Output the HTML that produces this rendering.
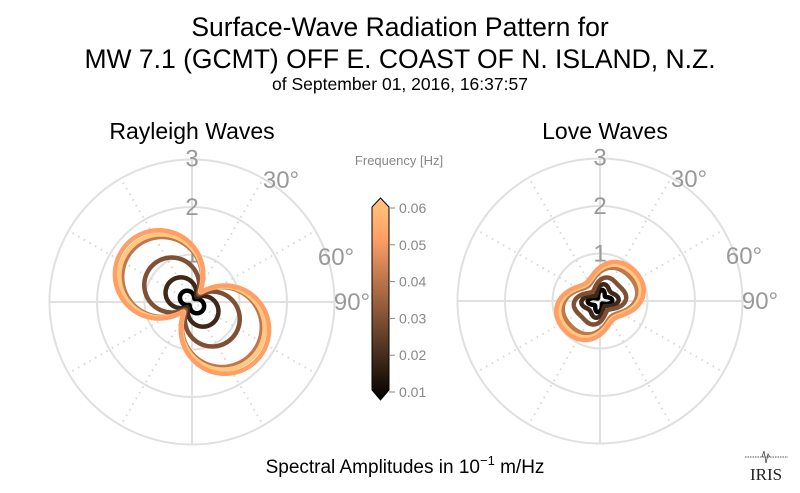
<!DOCTYPE html>
<html><head><meta charset="utf-8"><style>
html,body{margin:0;padding:0;background:#fff;}
svg{display:block;font-family:"Liberation Sans",sans-serif;}
</style></head><body>
<svg id="s" width="800" height="493" viewBox="0 0 800 493" xmlns="http://www.w3.org/2000/svg">
<defs>
<linearGradient id="cm" x1="0" y1="1" x2="0" y2="0">
<stop offset="0" stop-color="#000000"/>
<stop offset="0.2" stop-color="#3f2819"/>
<stop offset="0.4" stop-color="#7f5033"/>
<stop offset="0.6" stop-color="#bf774c"/>
<stop offset="0.8" stop-color="#ff9f66"/>
<stop offset="1" stop-color="#ffc77f"/>
</linearGradient>
</defs>
<text x="400" y="36" font-size="26.5" text-anchor="middle" fill="#000">Surface-Wave Radiation Pattern for</text>
<text x="400" y="68" font-size="26.5" text-anchor="middle" fill="#000">MW 7.1 (GCMT) OFF E. COAST OF N. ISLAND, N.Z.</text>
<text x="400" y="90" font-size="17.5" text-anchor="middle" fill="#000">of September 01, 2016, 16:37:57</text>
<text x="192" y="139" font-size="23" text-anchor="middle" fill="#000">Rayleigh Waves</text>
<text x="605" y="139" font-size="23" text-anchor="middle" fill="#000">Love Waves</text>
<g id="g1"></g>
<g id="g2"></g>
<text x="399" y="165" font-size="13" text-anchor="middle" fill="#888">Frequency [Hz]</text>
<path d="M372,207 L380.5,198 L389,207 L389,390 L380.5,400 L372,390 Z" fill="url(#cm)" stroke="#000" stroke-width="1"/>
<g font-size="14" fill="#888" id="cbt"></g>
<text x="405" y="473" font-size="19" text-anchor="middle" fill="#000">Spectral Amplitudes in 10<tspan dy="-8" font-size="13">−1</tspan><tspan dy="8"> m/Hz</tspan></text>
<g>
<line x1="745" y1="457" x2="788" y2="457" stroke="#555" stroke-width="1" stroke-dasharray="1.5,1"/>
<path d="M762,457 l2,-6 l2,12 l2,-9 l2,3" stroke="#444" fill="none" stroke-width="0.8"/>
<text x="766" y="480" font-size="17" font-family="Liberation Serif,serif" text-anchor="middle" fill="#222">IRIS</text>
</g>
</svg>
<script>
var NS="http://www.w3.org/2000/svg";
function el(p,t,a){var e=document.createElementNS(NS,t);for(var k in a)e.setAttribute(k,a[k]);p.appendChild(e);return e;}
var U=47.5;
function grid(g,cx,cy){
  for(var i=1;i<=3;i++)el(g,"circle",{cx:cx,cy:cy,r:U*i,fill:"none",stroke:"#e0e0e0","stroke-width":2});
  for(var a=0;a<360;a+=30){var r=a*Math.PI/180,R=U*3;
    var solid=a%90==0;
    el(g,"line",{x1:cx,y1:cy,x2:cx+R*Math.sin(r),y2:cy-R*Math.cos(r),stroke:solid?"#e0e0e0":"#d8d8d8","stroke-width":2,"stroke-dasharray":solid?"":"1.5,5"});}
  var lab=[["3",cx,cy-3*U+7],["2",cx,cy-2*U+8],["1",cx,cy-U+8]];
  lab.forEach(function(l){el(g,"text",{x:l[1],y:l[2],"font-size":24,"text-anchor":"middle",fill:"#999"}).textContent=l[0];});
  [[89,-114,"30°"],[144,-37,"60°"],[160,8,"90°"]].forEach(function(l){
    el(g,"text",{x:cx+l[0],y:cy+l[1],"font-size":24,"text-anchor":"middle",fill:"#999"}).textContent=l[2];});
}
function curve(g,cx,cy,f,col){
  var d="";for(var i=0;i<=360;i++){var t=i*Math.PI/180,r=f(t);
    d+=(i?"L":"M")+(cx+r*Math.sin(t)).toFixed(2)+","+(cy-r*Math.cos(t)).toFixed(2);}
  el(g,"path",{d:d+"Z",fill:"none",stroke:col,"stroke-width":4.5,"stroke-linejoin":"round"});
}
var cols=["#000000","#3f2819","#7f5033","#bf774c","#ff9f66","#ffc77f"];
var g1=document.getElementById("g1"),g2=document.getElementById("g2");
var c1=[192,302],c2=[600,301];
grid(g1,c1[0],c1[1]);grid(g2,c2[0],c2[1]);
var phi=310*Math.PI/180;
var ray=[[13,4],[29,7],[53,10],[78,12],[86,14],[81,13]];
[0,1,2,3,5,4].forEach(function(i){var A=ray[i][0],c=ray[i][1];
  curve(g1,c1[0],c1[1],function(t){var v=Math.cos(t-phi);return Math.sqrt(A*A*v*v+c*c);},cols[i]);});
var ph2=58*Math.PI/180;
var lov=[[0.3,1],[0.45,0.7],[0.62,0.4],[0.86,0.2],[1.0,0.15],[0.93,0.15]];
[0,1,2,3,5,4].forEach(function(i){var s=lov[i][0],q=lov[i][1];
  curve(g2,c2[0],c2[1],function(t){var u=t-ph2;var v=Math.cos(u);
    var base=25+25*v*v - 4*Math.sin(u)*Math.cos(u);
    var clover=1-q*0.55*Math.pow(Math.cos(2*u+0.3),2);
    return s*base*clover;},cols[i]);});
var cbt=document.getElementById("cbt");
for(var k=0;k<6;k++){var y=392-k*36.8;
  el(cbt,"line",{x1:389,y1:y,x2:395,y2:y,stroke:"#888","stroke-width":1});
  el(cbt,"text",{x:399,y:y+5}).textContent="0.0"+(k+1);}
</script>
</body></html>
